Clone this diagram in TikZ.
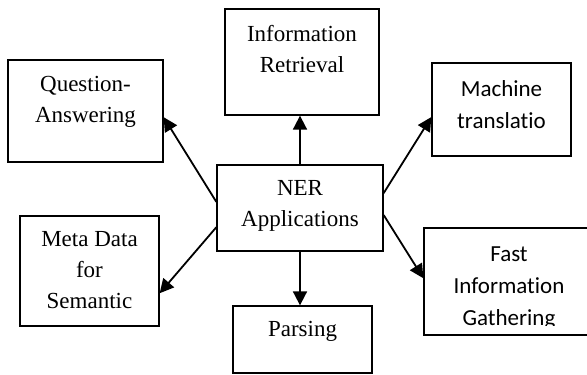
\documentclass[tikz,border=0pt]{standalone}
\usepackage{fontspec}
\setmainfont{Liberation Serif}
\newfontfamily\calib[Ligatures=NoCommon]{Carlito}
\usetikzlibrary{arrows.meta,calc,positioning}

\begin{document}
\begin{tikzpicture}[
      x=1pt, y=-1pt,
      box/.style={draw, line width=1.3pt, inner sep=0pt, minimum width=#1},
      txt/.style={font=\fontsize{23}{31}\selectfont, align=center, inner sep=0pt, anchor=north},
      arr/.style={line width=1.8pt, -{Triangle[length=14pt,width=14pt]}}]
    \clip (0,0) rectangle (587,375);
    % boxes
    \node[box=155pt, minimum height=102pt] (qa) at (85.5,111) {};
    \node[box=154pt, minimum height=106pt] (ir) at (302,62) {};
    \node[box=139pt, minimum height=93pt] (mt) at (501.5,109.5) {};
    \node[box=166pt, minimum height=86pt] (ner) at (300,208) {};
    \node[box=139pt, minimum height=110pt] (meta) at (89.5,271) {};
    \node[box=139pt, minimum height=67pt] (pars) at (302.5,339.5) {};
    \node[box=170pt, minimum height=107pt] (fast) at (509,281.5) {};
    % texts
    \node[txt, below=17pt of qa.north] (qatext) {Question-\\Answering};
    \node[txt, below=17pt of ir.north] (irtext) {Information\\Retrieval};
    \node[txt, below=18pt of mt.north, font=\calib\fontsize{23}{32}\selectfont] (mttext) {Machine\\translatio};
    \node[txt, below=16pt of ner.north] (nertext) {NER\\Applications};
    \node[txt, below=16pt of meta.north] (metatext) {Meta Data\\for\\Semantic};
    \node[txt, below=16pt of pars.north] (parstext) {Parsing};
    \begin{scope}
      \clip (fast.north west) rectangle ($(fast.south east)+(0,-10)$);
      \node[txt, below=19pt of fast.north, font=\calib\fontsize{23}{32}\selectfont] (fasttext) {Fast\\Information\\Gathering};
    \end{scope}
    % connectors
    \draw[arr] (ner.north) -- (ner.north |- ir.south);
    \draw[arr] (ner.south) -- (ner.south |- pars.north);
    \draw[arr] ($(ner.north west)!0.43!(ner.south west)$) -- ($(qa.north east)!0.56!(qa.south east)$);
    \draw[arr] ($(ner.north west)!0.72!(ner.south west)$) -- ($(meta.north east)!0.70!(meta.south east)$);
    \draw[arr] ($(ner.north east)!0.33!(ner.south east)$) -- ($(mt.north west)!0.58!(mt.south west)$);
    \draw[arr] ($(ner.north east)!0.58!(ner.south east)$) -- ($(fast.north west)!0.47!(fast.south west)$);
\end{tikzpicture}
\end{document}
